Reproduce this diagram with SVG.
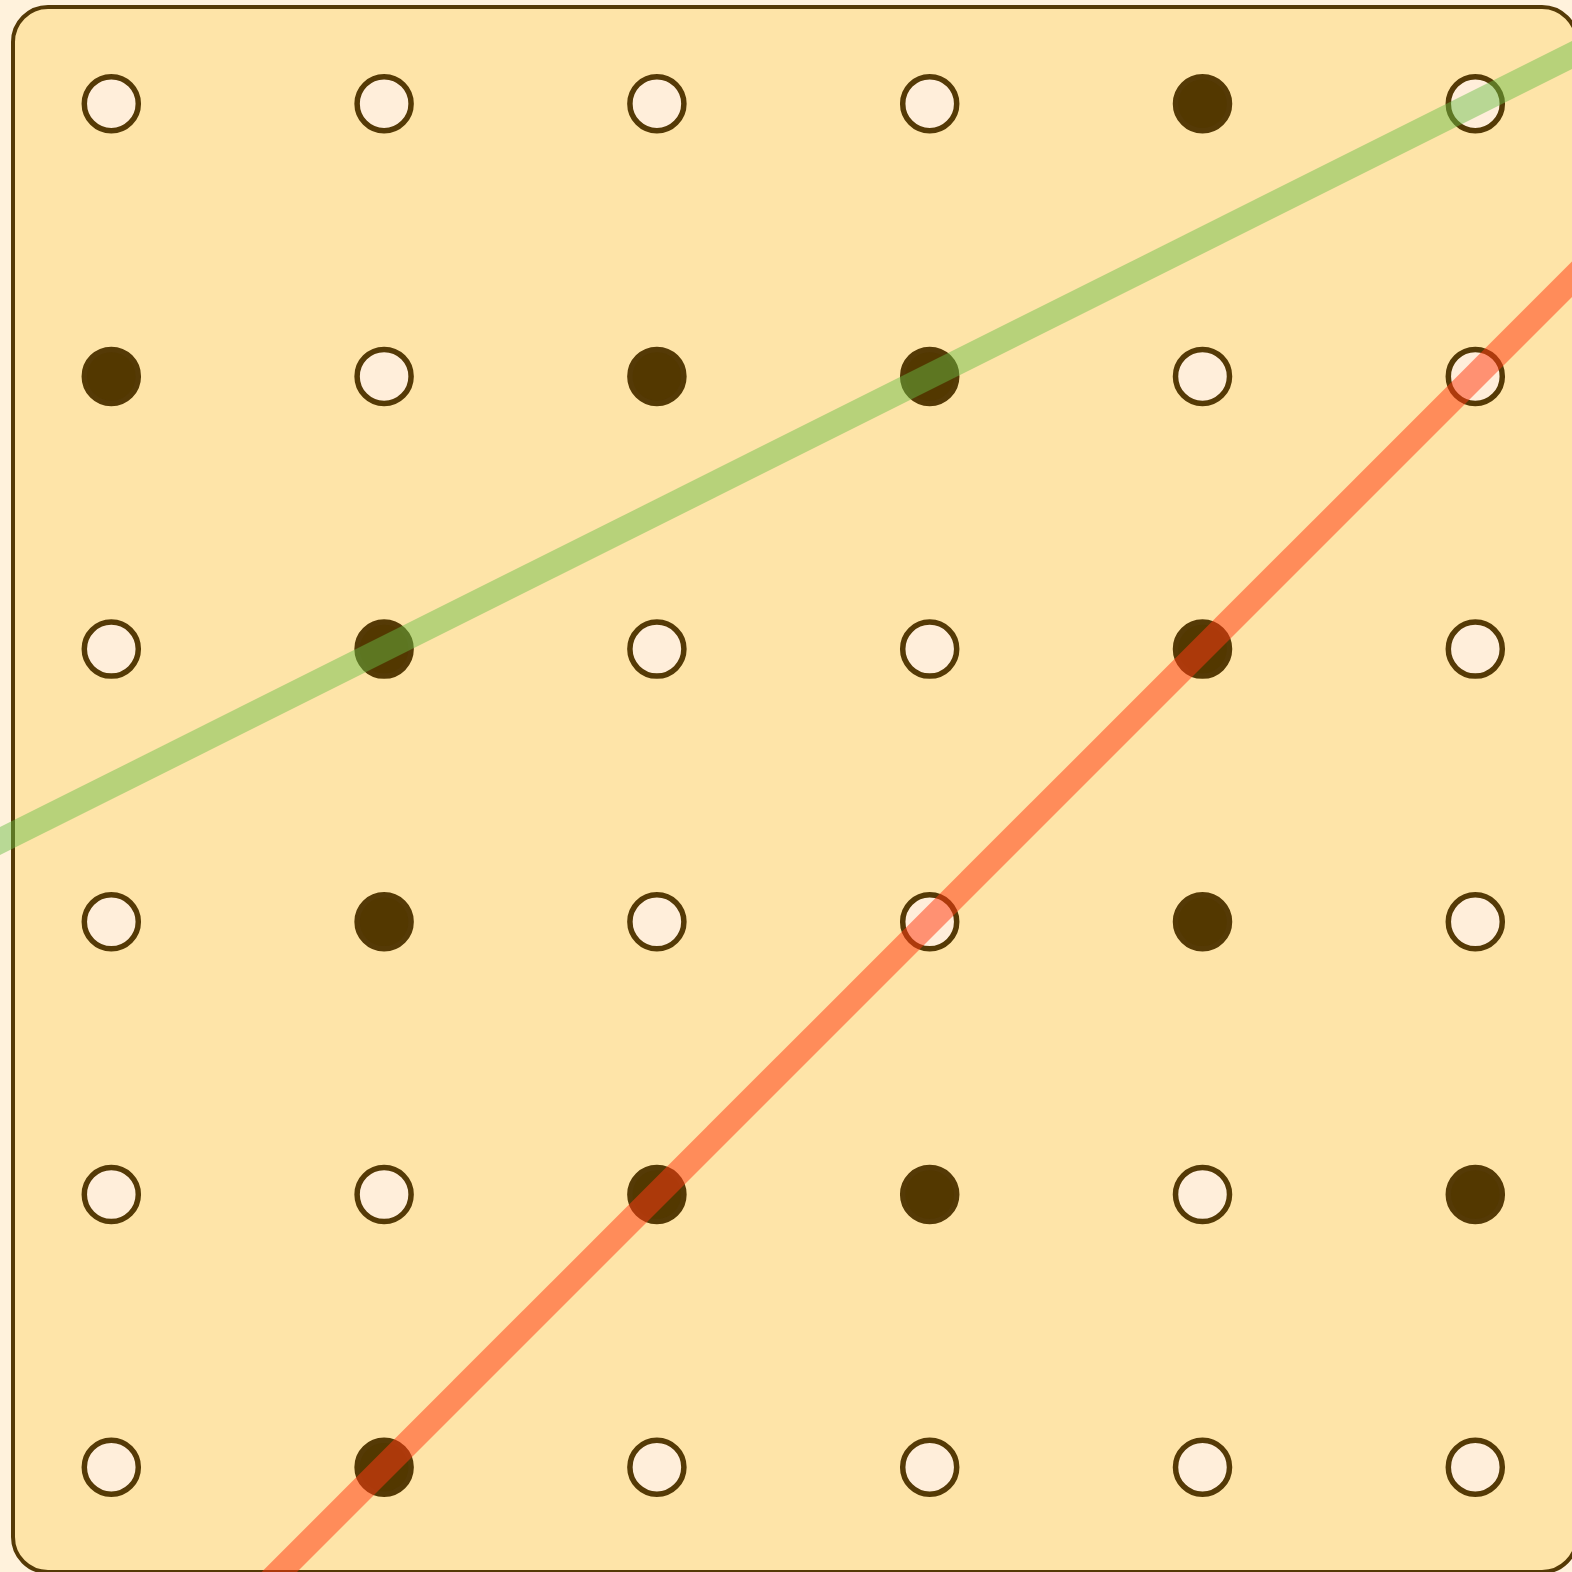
<svg xmlns="http://www.w3.org/2000/svg" width="1572" height="1572" viewBox="0 0 1572 1572">
<style>
.peg{stroke:#553a06;stroke-width:5.5}
.open{fill:#ffeeda}
.on{fill:#533800}
.band{fill:none;stroke-width:25;stroke-linecap:butt}
</style>
<rect x="0" y="0" width="1572" height="1572" fill="#fff2dc"/>
<rect id="board" x="13" y="7" width="1564" height="1565" rx="35" fill="#fee4a8" stroke="#553a06" stroke-width="4"/>
<g id="pegs">
<g id="r0">
<circle class="peg open" cx="111.3" cy="103.7" r="27"/>
<circle class="peg open" cx="384.1" cy="103.7" r="27"/>
<circle class="peg open" cx="656.9" cy="103.7" r="27"/>
<circle class="peg open" cx="929.7" cy="103.7" r="27"/>
<circle class="peg on" cx="1202.5" cy="103.7" r="27"/>
<circle class="peg open" cx="1475.3" cy="103.7" r="27"/>
</g>
<g id="r1">
<circle class="peg on" cx="111.3" cy="376.4" r="27"/>
<circle class="peg open" cx="384.1" cy="376.4" r="27"/>
<circle class="peg on" cx="656.9" cy="376.4" r="27"/>
<circle class="peg on" cx="929.7" cy="376.4" r="27"/>
<circle class="peg open" cx="1202.5" cy="376.4" r="27"/>
<circle class="peg open" cx="1475.3" cy="376.4" r="27"/>
</g>
<g id="r2">
<circle class="peg open" cx="111.3" cy="649.1" r="27"/>
<circle class="peg on" cx="384.1" cy="649.1" r="27"/>
<circle class="peg open" cx="656.9" cy="649.1" r="27"/>
<circle class="peg open" cx="929.7" cy="649.1" r="27"/>
<circle class="peg on" cx="1202.5" cy="649.1" r="27"/>
<circle class="peg open" cx="1475.3" cy="649.1" r="27"/>
</g>
<g id="r3">
<circle class="peg open" cx="111.3" cy="921.8" r="27"/>
<circle class="peg on" cx="384.1" cy="921.8" r="27"/>
<circle class="peg open" cx="656.9" cy="921.8" r="27"/>
<circle class="peg open" cx="929.7" cy="921.8" r="27"/>
<circle class="peg on" cx="1202.5" cy="921.8" r="27"/>
<circle class="peg open" cx="1475.3" cy="921.8" r="27"/>
</g>
<g id="r4">
<circle class="peg open" cx="111.3" cy="1194.5" r="27"/>
<circle class="peg open" cx="384.1" cy="1194.5" r="27"/>
<circle class="peg on" cx="656.9" cy="1194.5" r="27"/>
<circle class="peg on" cx="929.7" cy="1194.5" r="27"/>
<circle class="peg open" cx="1202.5" cy="1194.5" r="27"/>
<circle class="peg on" cx="1475.3" cy="1194.5" r="27"/>
</g>
<g id="r5">
<circle class="peg open" cx="111.3" cy="1467.2" r="27"/>
<circle class="peg on" cx="384.1" cy="1467.2" r="27"/>
<circle class="peg open" cx="656.9" cy="1467.2" r="27"/>
<circle class="peg open" cx="929.7" cy="1467.2" r="27"/>
<circle class="peg open" cx="1202.5" cy="1467.2" r="27"/>
<circle class="peg open" cx="1475.3" cy="1467.2" r="27"/>
</g>
</g>
<g id="lines">
<line id="green" class="band" x1="-20" y1="851.1" x2="1600" y2="41.1" stroke="#69be46" stroke-opacity="0.47"/>
<line id="orange" class="band" x1="251.3" y1="1600" x2="1600" y2="251.3" stroke="#ff3c14" stroke-opacity="0.52"/>
</g>
</svg>
